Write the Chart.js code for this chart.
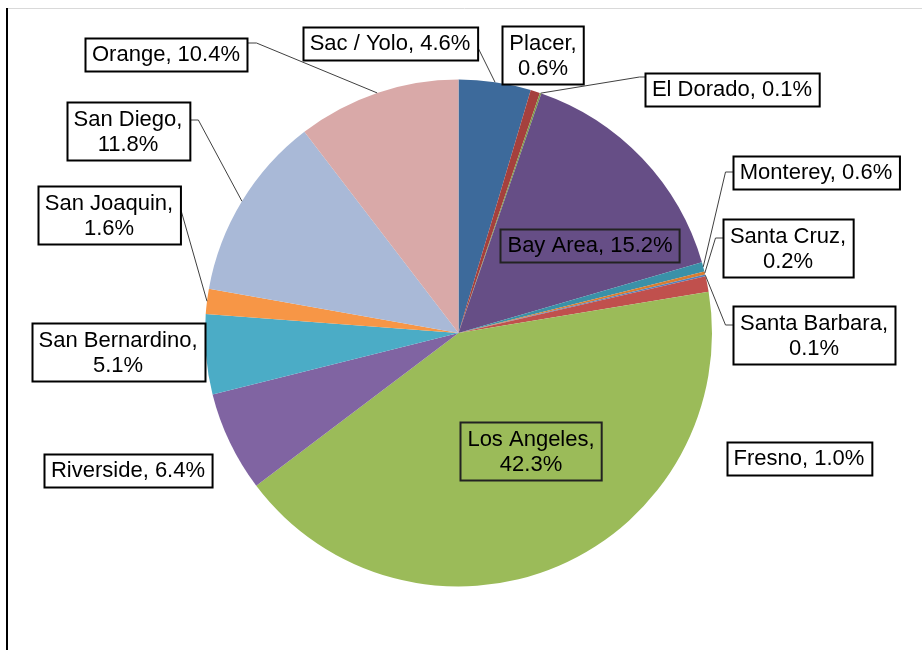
<!DOCTYPE html>
<html>
<head>
<meta charset="utf-8">
<script src="https://cdn.jsdelivr.net/npm/chart.js@4"></script>
<style>
    body { margin: 0; background: #fff; }
    #wrap { width: 922px; height: 650px; }
</style>
</head>
<body>
<div id="wrap"><canvas id="pie-canvas" width="922" height="650"></canvas></div>
<script>
// data
const regions = ['Sac / Yolo', 'Placer', 'El Dorado', 'Bay Area', 'Monterey', 'Santa Cruz', 'Santa Barbara',
    'Fresno', 'Los Angeles', 'Riverside', 'San Bernardino', 'San Joaquin', 'San Diego', 'Orange'];
const shares = [4.6, 0.6, 0.1, 15.2, 0.6, 0.2, 0.1, 1.0, 42.3, 6.4, 5.1, 1.6, 11.8, 10.4];
const sliceColors = ['#3D6A9B', '#A5403D', '#7E9B48', '#664E86', '#3A91A8', '#D97D30', '#4F81BD',
    '#C0504D', '#9BBB59', '#8064A2', '#4BACC6', '#F79646', '#A9B9D7', '#D9A9A8'];

// where each data label box sits (center), whether the text wraps, and which side the leader leaves from
const labelLayout = [
    { x: 390, y: 43, wrap: false, side: 'right', dy: 5, elbow: 0 },
    { x: 543, y: 55, wrap: true },
    { x: 732, y: 89, wrap: false, side: 'left', dy: -12, elbow: 6 },
    { x: 590, y: 245, wrap: false, inside: true },
    { x: 816, y: 172, wrap: false, side: 'left', dy: 0, elbow: 8 },
    { x: 788, y: 248, wrap: true, side: 'left', dy: -10, elbow: 8 },
    { x: 814, y: 335, wrap: true, side: 'left', dy: -10, elbow: 8 },
    { x: 799, y: 458, wrap: false },
    { x: 531, y: 451, wrap: true, inside: true },
    { x: 128, y: 470, wrap: false },
    { x: 118, y: 352, wrap: true },
    { x: 109, y: 215, wrap: true, side: 'right', dy: -5, elbow: 0 },
    { x: 128, y: 131, wrap: true, side: 'right', dy: -11, elbow: 8 },
    { x: 166, y: 54, wrap: false, side: 'right', dy: -11, elbow: 9 }
];

const FONT = '22px "Liberation Sans", Arial, sans-serif';
const LINE_H = 25;

// frame lines + boxed data labels with leader lines
const labelPlugin = {
    id: 'boxedLabels',
    beforeDraw(chart) {
        const c = chart.ctx;
        c.save();
        c.fillStyle = '#fff';
        c.fillRect(0, 0, chart.width, chart.height);
        c.strokeStyle = '#d9d9d9';
        c.lineWidth = 1;
        c.beginPath();
        c.moveTo(7, 8.5);
        c.lineTo(chart.width, 8.5);
        c.stroke();
        c.strokeStyle = '#000';
        c.lineWidth = 2;
        c.beginPath();
        c.moveTo(7, 8);
        c.lineTo(7, chart.height);
        c.stroke();
        c.restore();
    },
    afterDatasetsDraw(chart) {
        const c = chart.ctx;
        const arcs = chart.getDatasetMeta(0).data;
        c.save();
        c.font = FONT;
        c.textAlign = 'center';
        c.textBaseline = 'middle';
        regions.forEach((name, i) => {
            const lay = labelLayout[i];
            const pct = shares[i].toFixed(1) + '%';
            const lines = lay.wrap ? [name + ',', pct] : [name + ', ' + pct];
            const w = Math.max(...lines.map(t => c.measureText(t).width)) + 14;
            const h = lines.length * LINE_H + 8;
            const left = Math.round(lay.x - w / 2) + 0.5;
            const top = Math.round(lay.y - h / 2) + 0.5;

            // leader line
            if (lay.side) {
                const a = arcs[i].getProps(['x', 'y', 'startAngle', 'endAngle', 'outerRadius'], true);
                const mid = (a.startAngle + a.endAngle) / 2;
                const ex = a.x + Math.cos(mid) * a.outerRadius;
                const ey = a.y + Math.sin(mid) * a.outerRadius;
                const sx = lay.side === 'left' ? left : left + w;
                const sy = lay.y + lay.dy;
                const bx = lay.side === 'left' ? sx - lay.elbow : sx + lay.elbow;
                c.strokeStyle = '#404040';
                c.lineWidth = 1;
                c.beginPath();
                c.moveTo(sx, sy);
                c.lineTo(bx, sy);
                c.lineTo(ex, ey);
                c.stroke();
            }

            if (!lay.inside) {
                c.fillStyle = '#fff';
                c.fillRect(left, top, w, h);
            }
            c.strokeStyle = lay.inside ? '#222' : '#000';
            c.lineWidth = 2;
            c.strokeRect(left, top, w, h);

            c.fillStyle = '#000';
            lines.forEach((t, k) => {
                c.fillText(t, lay.x, lay.y + (k - (lines.length - 1) / 2) * LINE_H + 1);
            });
        });
        c.restore();
    }
};

const ctx = document.getElementById('pie-canvas').getContext('2d');
new Chart(ctx, {
    type: 'pie',
    data: {
        labels: regions,
        datasets: [{
            data: shares,
            backgroundColor: sliceColors,
            borderWidth: 0
        }]
    },
    options: {
        responsive: false,
        animation: false,
        layout: {
            padding: { top: 79, bottom: 63, left: 205, right: 210 }
        },
        plugins: {
            legend: { display: false },
            tooltip: { enabled: false }
        }
    },
    plugins: [labelPlugin]
});
</script>
</body>
</html>
